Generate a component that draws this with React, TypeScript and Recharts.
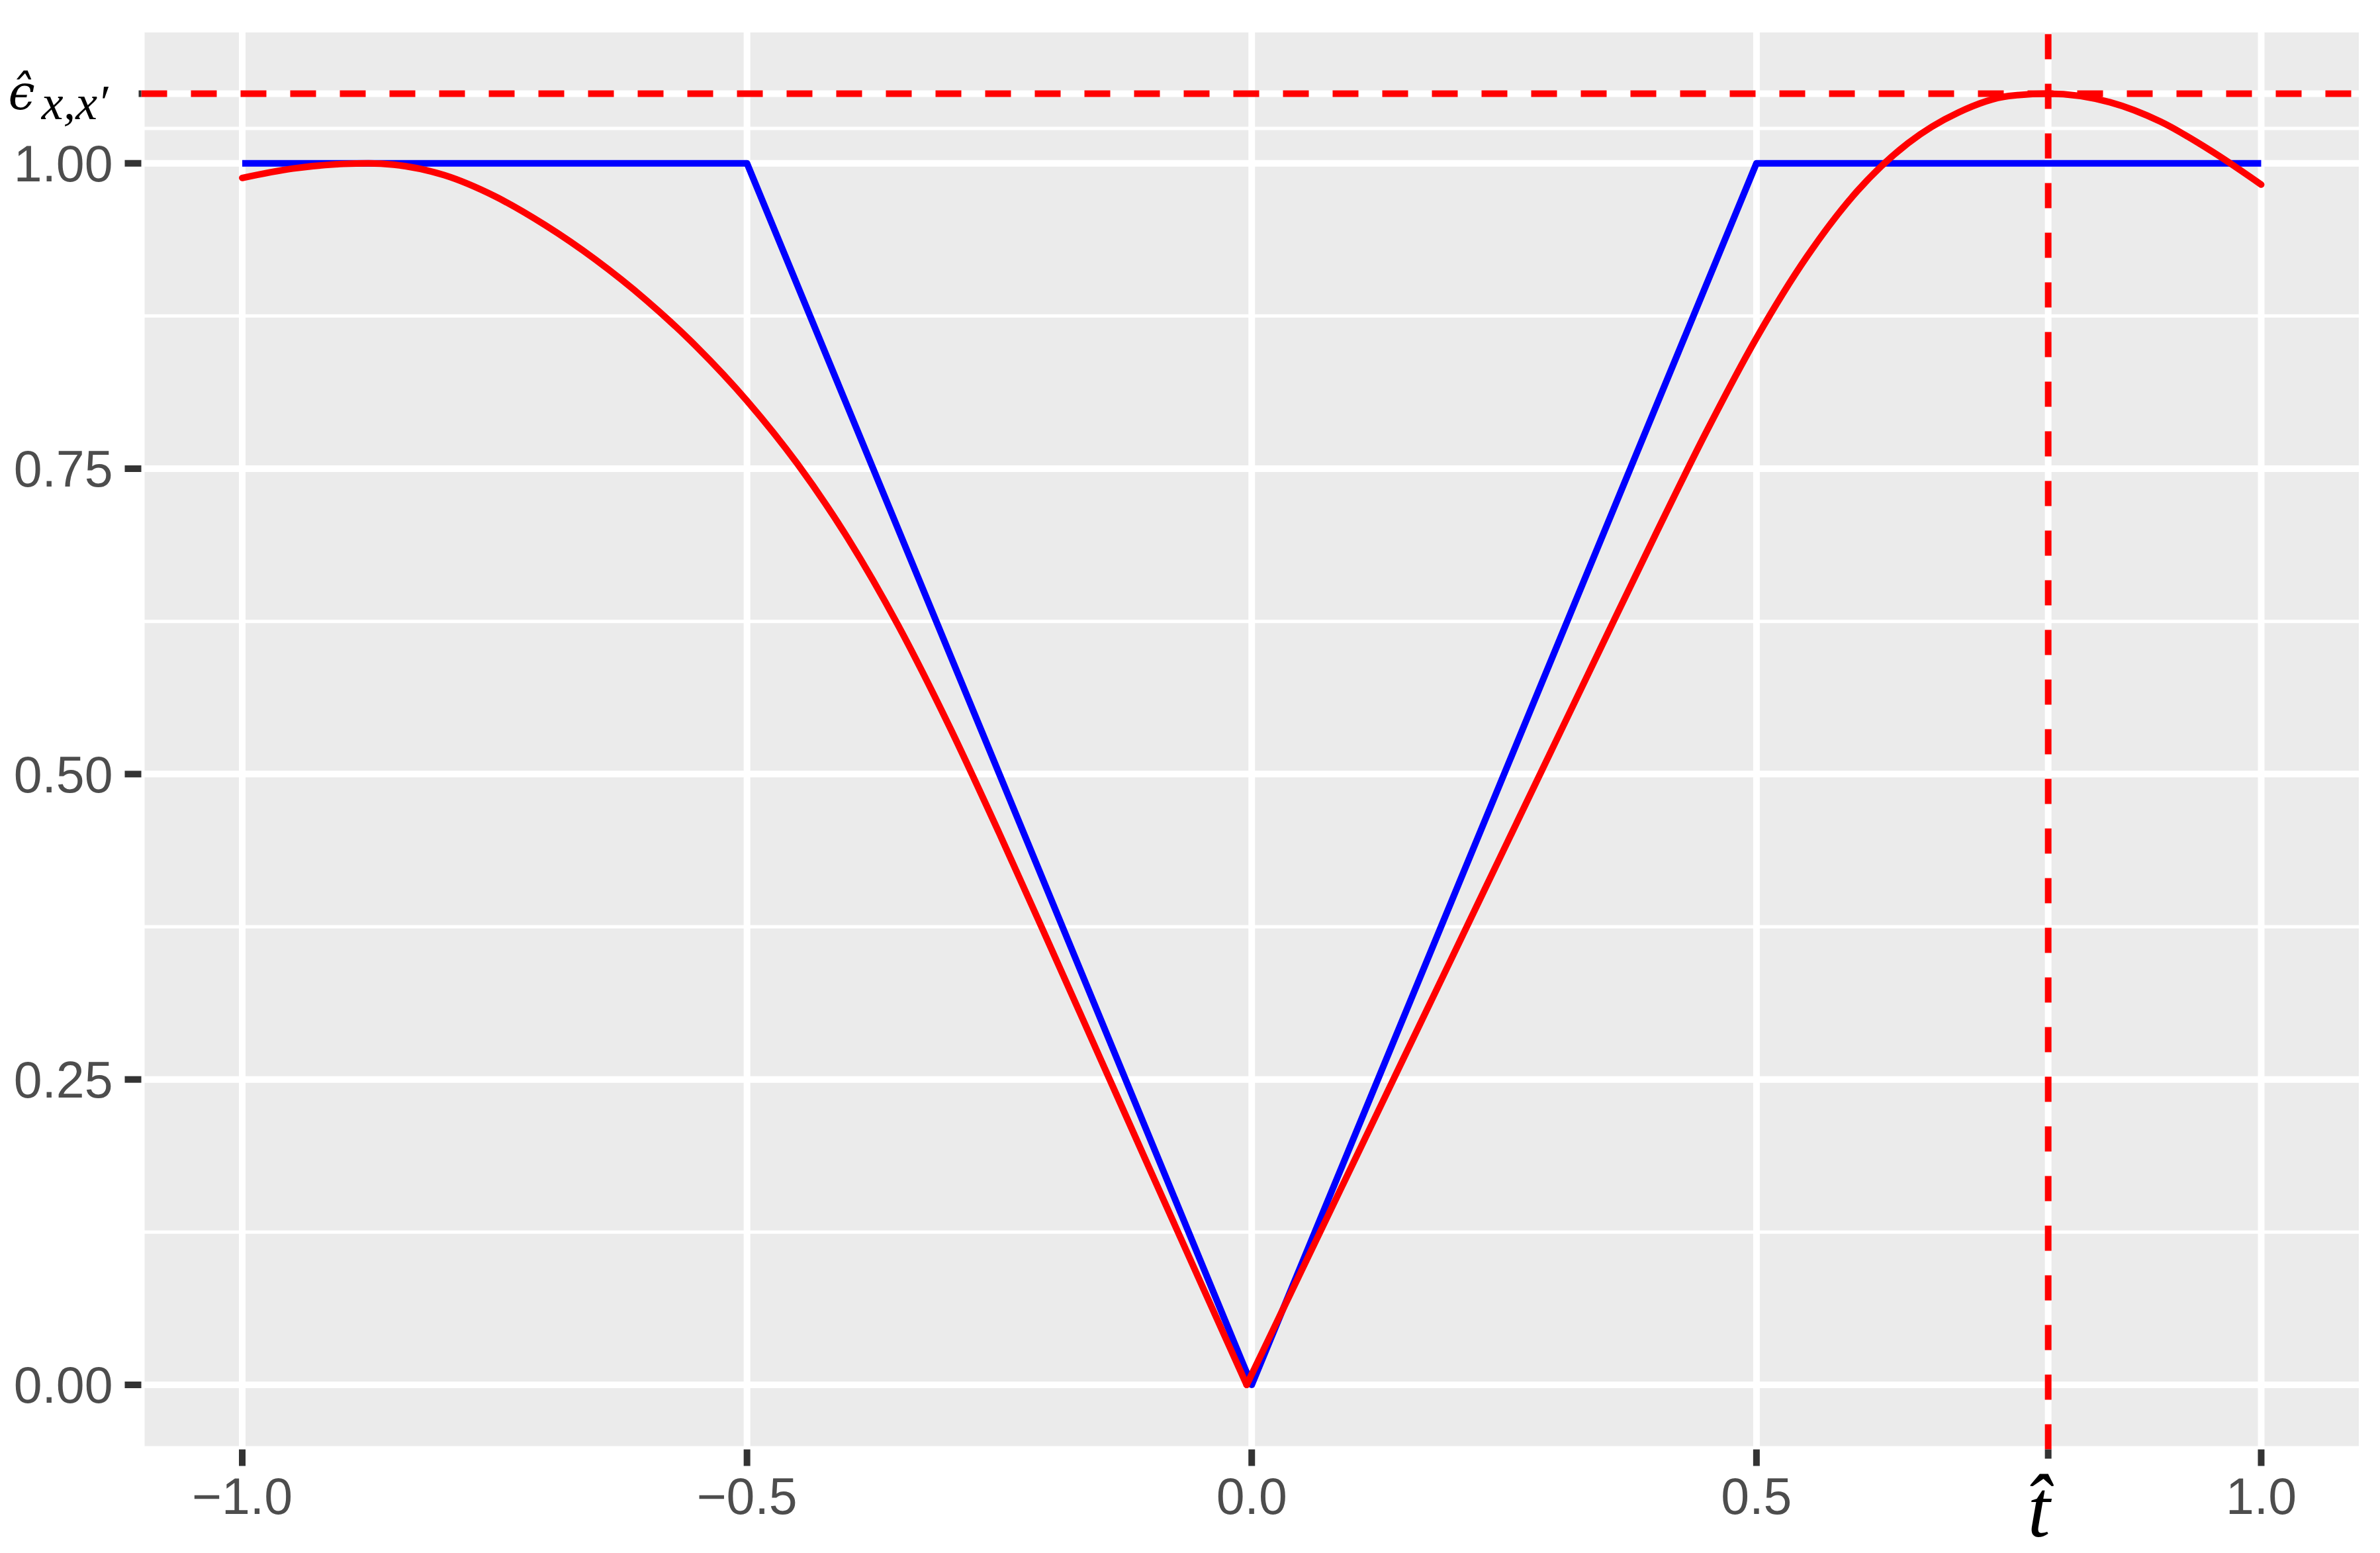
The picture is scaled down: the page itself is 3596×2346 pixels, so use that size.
import React from 'react';
import { LineChart, Line, XAxis, YAxis, CartesianGrid, ReferenceLine } from 'recharts';

const T_HAT = 0.789;
const EPS_HAT = 1.057;

// blue piecewise-linear series
const blueX = [-1, -0.5, 0, 0.5, 1];
const blueY = [1, 1, 0, 1, 1];

// red series, left branch (down to its minimum)
const redLeftX = [
  -1.0, -0.95, -0.9, -0.875, -0.85, -0.8, -0.75, -0.7, -0.65, -0.6, -0.55, -0.5,
  -0.45, -0.4, -0.35, -0.3, -0.25, -0.2, -0.15, -0.1, -0.05, -0.005,
];
const redLeftY = [
  0.988, 0.9957, 0.9995, 1.0, 0.9989, 0.9903, 0.9731, 0.9494, 0.9211, 0.8881, 0.8499, 0.8056,
  0.7539, 0.6929, 0.6214, 0.5399, 0.4514, 0.3597, 0.2672, 0.1747, 0.0826, 0.0,
];

// red series, right branch (from its minimum)
const redRightX = [
  -0.005, 0.05, 0.1, 0.15, 0.2, 0.25, 0.3, 0.35, 0.4, 0.45, 0.5, 0.55, 0.6,
  0.65, 0.7, 0.75, 0.789, 0.85, 0.9, 0.95, 1.0,
];
const redRightY = [
  0.0, 0.0946, 0.1806, 0.2666, 0.3526, 0.4386, 0.5246, 0.6106, 0.6961, 0.7796, 0.8569, 0.9236, 0.9774,
  1.0164, 1.0416, 1.0551, 1.057, 1.05, 1.0342, 1.0104, 0.9826,
];

// axis breaks
const xMajor = [-1, -0.5, 0, 0.5, T_HAT, 1];
const xMinor = [-0.75, -0.25, 0.25, 0.6445, 0.8945];
const yMajor = [0, 0.25, 0.5, 0.75, 1, EPS_HAT];
const yMinor = [0.125, 0.375, 0.625, 0.875, 1.0285];

const X_DOMAIN: [number, number] = [-1.1, 1.1];
const Y_DOMAIN: [number, number] = [-0.05285, 1.10985];

const blueData = blueX.map((x, i) => ({ x, y: blueY[i] }));
const redLeftData = redLeftX.map((x, i) => ({ x, y: redLeftY[i] }));
const redRightData = redRightX.map((x, i) => ({ x, y: redRightY[i] }));

const SANS = "'Liberation Sans', Arial, Helvetica, sans-serif";
const SERIF = "'Liberation Serif', 'Times New Roman', serif";
const SERIF2 = "'DejaVu Serif', serif";
const LABEL_COLOR = '#4D4D4D';

const fmtX = (v: number) => (v < 0 ? '\u2212' + Math.abs(v).toFixed(1) : v.toFixed(1));
const fmtY = (v: number) => v.toFixed(2);

const XTick = (props: any) => {
  const { x, y, payload } = props;
  const v = payload.value;
  if (Math.abs(v - T_HAT) < 1e-9) {
    return (
      <g>
        <rect x={x - 8} y={y - 29} width={16} height={12} fill="#ffffff" />
        <text x={x - 14} y={y + 88} textAnchor="middle" fontFamily={SERIF} fontStyle="italic" fontSize={122} fill="#000">
          {'t\u0302'}
        </text>
      </g>
    );
  }
  return (
    <text x={x} y={y} dy="0.71em" textAnchor="middle" fontFamily={SANS} fontSize={77} fill={LABEL_COLOR}>
      {fmtX(v)}
    </text>
  );
};

const YTick = (props: any) => {
  const { x, y, payload } = props;
  const v = payload.value;
  if (Math.abs(v - EPS_HAT) < 1e-9) {
    return (
      <g>
        <rect x={x + 4} y={y - 7} width={35} height={14} fill="#ffffff" />
        <text x={x - 158} y={y + 23} fill="#000">
          <tspan fontFamily={SERIF2} fontStyle="italic" fontSize={72}>
            {'\u03F5\u0302'}
          </tspan>
          <tspan dx={10} dy={15} fontFamily={SERIF} fontStyle="italic" fontSize={74}>
            x,x′
          </tspan>
        </text>
      </g>
    );
  }
  return (
    <text x={x} y={y} dy="0.355em" textAnchor="end" fontFamily={SANS} fontSize={77} fill={LABEL_COLOR}>
      {fmtY(v)}
    </text>
  );
};

export default function App() {
  return (
    <div style={{ position: 'absolute', left: 0, top: 0, width: 3596, height: 2346, background: '#ffffff' }}>
      <LineChart width={3596} height={2346} margin={{ top: 44, right: 27, bottom: 36.5, left: 13.5 }}>
        <XAxis
          type="number"
          dataKey="x"
          domain={X_DOMAIN}
          ticks={xMajor}
          interval={0}
          allowDataOverflow
          height={120}
          axisLine={false}
          tickLine={{ stroke: '#333333', strokeWidth: 10 }}
          tickSize={25}
          tickMargin={18}
          tick={<XTick />}
        />
        <YAxis
          type="number"
          domain={Y_DOMAIN}
          ticks={yMajor}
          interval={0}
          allowDataOverflow
          width={200}
          axisLine={false}
          tickLine={{ stroke: '#333333', strokeWidth: 10 }}
          tickSize={25}
          tickMargin={18}
          tick={<YTick />}
        />
        <XAxis xAxisId="minor" type="number" domain={X_DOMAIN} ticks={xMinor} interval={0} allowDataOverflow hide />
        <YAxis yAxisId="minor" type="number" domain={Y_DOMAIN} ticks={yMinor} interval={0} allowDataOverflow hide />
        <CartesianGrid
          xAxisId="minor"
          yAxisId="minor"
          stroke="#ffffff"
          strokeWidth={5}
          fill="#EBEBEB"
          fillOpacity={1}
        />
        <CartesianGrid stroke="#ffffff" strokeWidth={10} />
        <Line
          data={blueData}
          dataKey="y"
          type="linear"
          stroke="#0000FF"
          strokeWidth={10}
          strokeLinejoin="round"
          dot={false}
          activeDot={false}
          isAnimationActive={false}
        />
        <Line
          data={redLeftData}
          dataKey="y"
          type="monotone"
          stroke="#FF0000"
          strokeWidth={10}
          strokeLinejoin="round"
          strokeLinecap="round"
          dot={false}
          activeDot={false}
          isAnimationActive={false}
        />
        <Line
          data={redRightData}
          dataKey="y"
          type="monotone"
          stroke="#FF0000"
          strokeWidth={10}
          strokeLinejoin="round"
          strokeLinecap="round"
          dot={false}
          activeDot={false}
          isAnimationActive={false}
        />
        <ReferenceLine y={EPS_HAT} stroke="#FF0000" strokeWidth={10} strokeDasharray="39 36" />
        <ReferenceLine x={T_HAT} stroke="#FF0000" strokeWidth={10} strokeDasharray="38 37" />
      </LineChart>
    </div>
  );
}
